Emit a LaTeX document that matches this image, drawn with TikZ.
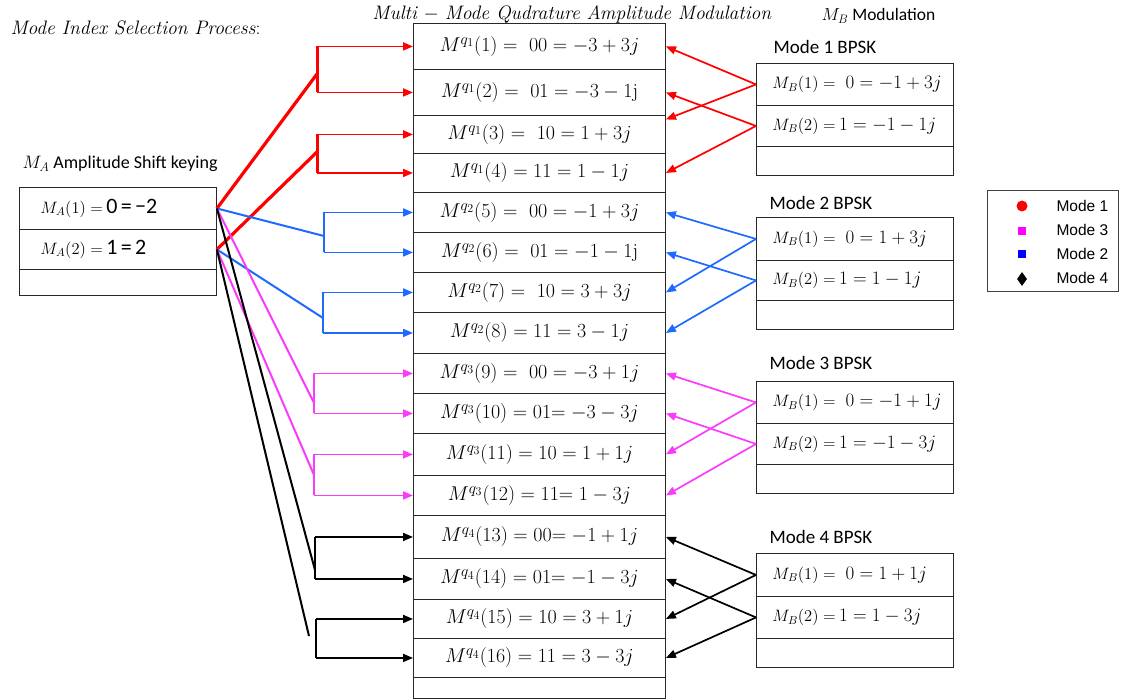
\RequirePackage{fix-cm}
\documentclass[tikz,border=0pt]{standalone}
\usepackage{fontspec}
\newfontfamily\calib{Carlito}
\newfontfamily\arial{Liberation Sans}
\usetikzlibrary{arrows.meta,shapes.geometric}
\DeclareMathSizes{20}{20}{15.5}{12}

\definecolor{modered}{RGB}{255,0,0}
\definecolor{modeblue}{RGB}{30,105,255}
\definecolor{modemag}{RGB}{250,60,250}
\definecolor{gridline}{RGB}{40,40,40}
\definecolor{legmag}{RGB}{255,0,255}
\definecolor{legblue}{RGB}{0,0,255}

\begin{document}
\begin{tikzpicture}[x=1pt,y=-1pt,
  cell/.style={draw=gridline, line width=0.9pt, minimum width=252pt, inner sep=0pt,
    anchor=north west, font=\fontsize{20}{23}\selectfont},
  acell/.style={draw=gridline, line width=0.9pt, text width=155pt, inner xsep=21pt, inner ysep=0pt,
    align=left, anchor=north west},
  bcell/.style={draw=gridline, line width=0.9pt, text width=185pt, inner xsep=6pt, inner ysep=0pt,
    align=left, anchor=north west},
  heading/.style={anchor=west, font=\calib\fontsize{19}{22}\selectfont},
  trunk/.style={line width=2pt},
  feed/.style={line width=1.8pt, -{Triangle[length=10pt,width=8pt]}},
  back/.style={line width=1.7pt, -{Triangle[length=10pt,width=8pt]}},
  legmark/.style={inner sep=0pt}
]
\useasboundingbox (0,0) rectangle (1121,700);

% ---------- titles ----------
\node[anchor=west, font=\fontsize{19.5}{22}\selectfont] (ttl) at (7,28) {\textit{Mode Index Selection Process}:};
\node[inner sep=0pt, font=\fontsize{19.5}{22}\selectfont] (ttm) at (572,14) {\textit{Multi} $-$ \textit{Mode Qudrature Amplitude Modulation}};
\node[heading, font=\calib\fontsize{17.5}{20}\selectfont] (ttb) at (818,16) {$M_B$ Modulation};
\node[heading, font=\calib\fontsize{18}{21}\selectfont] (tta) at (19,164) {$M_A$ Amplitude Shift keying};

% ---------- M_A amplitude table ----------
\newcommand\lhs[1]{{\fontsize{16.5}{19}\selectfont$#1$}}
\node[acell, minimum height=42pt] (a1) at (19,187) {\lhs{M_A(1) =}\ {\calib\fontsize{22}{25}\selectfont 0 = −2}};
\node[acell, minimum height=40pt] (a2) at (19,229) {\lhs{M_A(2) =}\ {\calib\fontsize{22}{25}\selectfont 1 = 2}};
\node[acell, minimum height=26pt] (a3) at (19,269) {};

% ---------- multi-mode QAM column ----------
\node[cell, minimum height=46pt] (m1)  at (413,23)  {$M^{q_1}(1) =\ 00 = -3 + 3j$};
\node[cell, minimum height=46pt] (m2)  at (413,69)  {$M^{q_1}(2) =\ 01 = -3 - 1\mathrm{j}$};
\node[cell, minimum height=38pt] (m3)  at (413,115) {$M^{q_1}(3) =\ 10 = 1 + 3j$};
\node[cell, minimum height=39pt] (m4)  at (413,153) {$M^{q_1}(4) = 11 = 1 - 1j$};
\node[cell, minimum height=40pt] (m5)  at (413,192) {$M^{q_2}(5) =\ 00 = -1 + 3j$};
\node[cell, minimum height=40pt] (m6)  at (413,232) {$M^{q_2}(6) =\ 01 = -1 - 1\mathrm{j}$};
\node[cell, minimum height=40pt] (m7)  at (413,272) {$M^{q_2}(7) =\ 10 = 3 + 3j$};
\node[cell, minimum height=41pt] (m8)  at (413,312) {$M^{q_2}(8) = 11 = 3 - 1j$};
\node[cell, minimum height=40pt] (m9)  at (413,353) {$M^{q_3}(9) =\ 00 = -3 + 1j$};
\node[cell, minimum height=40pt] (m10) at (413,393) {$M^{q_3}(10) ={}$01$ = -3 - 3j$};
\node[cell, minimum height=42pt] (m11) at (413,433) {$M^{q_3}(11) = 10 = 1 + 1j$};
\node[cell, minimum height=40pt] (m12) at (413,475) {$M^{q_3}(12) ={}$11$ = 1 - 3j$};
\node[cell, minimum height=43pt] (m13) at (413,515) {$M^{q_4}(13) ={}$00$ = -1 + 1j$};
\node[cell, minimum height=41pt] (m14) at (413,558) {$M^{q_4}(14) ={}$01$ = -1 - 3j$};
\node[cell, minimum height=39pt] (m15) at (413,599) {$M^{q_4}(15) = 10 = 3 + 1j$};
\node[cell, minimum height=39pt] (m16) at (413,638) {$M^{q_4}(16) = 11 = 3 - 3j$};
\node[cell, minimum height=21pt] (m17) at (413,677) {};

% ---------- M_B BPSK tables ----------
\newcommand\rhs[1]{{\fontsize{19}{22}\selectfont$#1$}}
\newcommand\ind{\hspace*{10pt}}
\node[heading] (h1) at (770,47) {Mode 1 BPSK};
\node[bcell, minimum height=42pt] (b11) at (756,63)  {\ind\lhs{M_B(1) =}\ \ \ \rhs{0 = -1 + 3j}};
\node[bcell, minimum height=41pt] (b12) at (756,105) {\ind\lhs{M_B(2) =}\ \rhs{1 = -1 - 1j}};
\node[bcell, minimum height=29pt] (b13) at (756,146) {};

\node[heading] (h2) at (766,203) {Mode 2 BPSK};
\node[bcell, minimum height=43pt] (b21) at (756,217) {\ind\lhs{M_B(1) =}\ \ \ \rhs{0 = 1 + 3j}};
\node[bcell, minimum height=40pt] (b22) at (756,260) {\ind\lhs{M_B(2) =}\ \rhs{1 = 1 - 1j}};
\node[bcell, minimum height=29pt] (b23) at (756,300) {};

\node[heading] (h3) at (766,363) {Mode 3 BPSK};
\node[bcell, minimum height=42pt] (b31) at (756,381) {\ind\lhs{M_B(1) =}\ \ \ \rhs{0 = -1 + 1j}};
\node[bcell, minimum height=41pt] (b32) at (756,423) {\ind\lhs{M_B(2) =}\ \rhs{1 = -1 - 3j}};
\node[bcell, minimum height=29pt] (b33) at (756,464) {};

\node[heading] (h4) at (766,537) {Mode 4 BPSK};
\node[bcell, minimum height=43pt] (b41) at (756,553) {\ind\lhs{M_B(1) =}\ \ \ \rhs{0 = 1 + 1j}};
\node[bcell, minimum height=42pt] (b42) at (756,596) {\ind\lhs{M_B(2) =}\ \rhs{1 = 1 - 3j}};
\node[bcell, minimum height=29pt] (b43) at (756,638) {};

% ---------- junction points of the index brackets ----------
\coordinate (jr1) at (317,74);
\coordinate (jr2) at (317,152);
\coordinate (jb1) at (324,236);
\coordinate (jb2) at (323,318);
\coordinate (jm1) at (314,403);
\coordinate (jm2) at (314,475);
\coordinate (jk1) at (315,570);
\coordinate (jk2) at (316,636);

% mode 1 (red)
\begin{scope}[modered]
  \draw[line width=3.2pt] (a1.east) -- (jr1);
  \draw[line width=3.2pt] (a2.east) -- (jr2);
  \draw[line width=3pt] (jr1 |- m1.west) -- (jr1 |- m2.west);
  \draw[line width=3pt] (jr2 |- m3.west) -- (jr2 |- m4.west);
  \draw[feed] (jr1 |- m1.west) -- (m1.west);
  \draw[feed] (jr1 |- m2.west) -- (m2.west);
  \draw[feed] (jr2 |- m3.west) -- (m3.west);
  \draw[feed] (jr2 |- m4.west) -- (m4.west);
  \draw[back] (b11.west) -- (m1.east);
  \draw[back] (b11.west) -- ([yshift=15pt]m3.east);
  \draw[back] (b12.west) -- (m2.east);
  \draw[back] (b12.west) -- (m4.east);
\end{scope}

% mode 2 (blue)
\begin{scope}[modeblue]
  \draw[trunk] (a1.east) -- (jb1);
  \draw[trunk] (a2.east) -- (jb2);
  \draw[trunk] (jb1 |- m5.west) -- (jb1 |- m6.west);
  \draw[trunk] (jb2 |- m7.west) -- (jb2 |- m8.west);
  \draw[feed] (jb1 |- m5.west) -- (m5.west);
  \draw[feed] (jb1 |- m6.west) -- (m6.west);
  \draw[feed] (jb2 |- m7.west) -- (m7.west);
  \draw[feed] (jb2 |- m8.west) -- (m8.west);
  \draw[back] (b21.west) -- (m5.east);
  \draw[back] (b21.west) -- (m7.east);
  \draw[back] (b22.west) -- (m6.east);
  \draw[back] (b22.west) -- (m8.east);
\end{scope}

% mode 3 (magenta)
\begin{scope}[modemag]
  \draw[trunk] (a1.east) -- (jm1);
  \draw[trunk] (a2.east) -- (jm2);
  \draw[trunk] (jm1 |- m9.west) -- (jm1 |- m10.west);
  \draw[trunk] (jm2 |- m11.west) -- (jm2 |- m12.west);
  \draw[feed] (jm1 |- m9.west) -- (m9.west);
  \draw[feed] (jm1 |- m10.west) -- (m10.west);
  \draw[feed] (jm2 |- m11.west) -- (m11.west);
  \draw[feed] (jm2 |- m12.west) -- (m12.west);
  \draw[back] (b31.west) -- (m9.east);
  \draw[back] (b31.west) -- (m11.east);
  \draw[back] (b32.west) -- (m10.east);
  \draw[back] (b32.west) -- (m12.east);
\end{scope}

% mode 4 (black)
\begin{scope}[black]
  \draw[trunk] (a1.east) -- (jk1);
  \draw[trunk] (a2.east) -- ([xshift=-7pt]jk2);
  \draw[trunk] (jk1 |- m13.west) -- (jk1 |- m14.west);
  \draw[trunk] (jk2 |- m15.west) -- (jk2 |- m16.west);
  \draw[feed] (jk1 |- m13.west) -- (m13.west);
  \draw[feed] (jk1 |- m14.west) -- (m14.west);
  \draw[feed] (jk2 |- m15.west) -- (m15.west);
  \draw[feed] (jk2 |- m16.west) -- (m16.west);
  \draw[back] (b41.west) -- (m13.east);
  \draw[back] (b41.west) -- (m15.east);
  \draw[back] (b42.west) -- (m14.east);
  \draw[back] (b42.west) -- (m16.east);
\end{scope}

% ---------- legend ----------
\node[draw=black!75, line width=1pt, minimum width=131pt, minimum height=101pt, anchor=north west] (leg) at (987,190) {};
\node[legmark, circle, fill=modered, minimum size=11pt] (l1) at (1022,206) {};
\node[legmark, rectangle, fill=legmag, minimum size=8pt] (l3) at (1022,231) {};
\node[legmark, rectangle, fill=legblue, minimum size=8pt] (l2) at (1022,254) {};
\node[legmark, diamond, fill=black, minimum width=10pt, minimum height=14pt] (l4) at (1022,279) {};
\begin{scope}[every node/.style={anchor=west, font=\arial\fontsize{15.5}{18}\selectfont}]
  \node (t1) at (1053,206) {Mode 1};
  \node (t3) at (1053,230) {Mode 3};
  \node (t2) at (1053,254) {Mode 2};
  \node (t4) at (1053,278) {Mode 4};
\end{scope}
\end{tikzpicture}
\end{document}
